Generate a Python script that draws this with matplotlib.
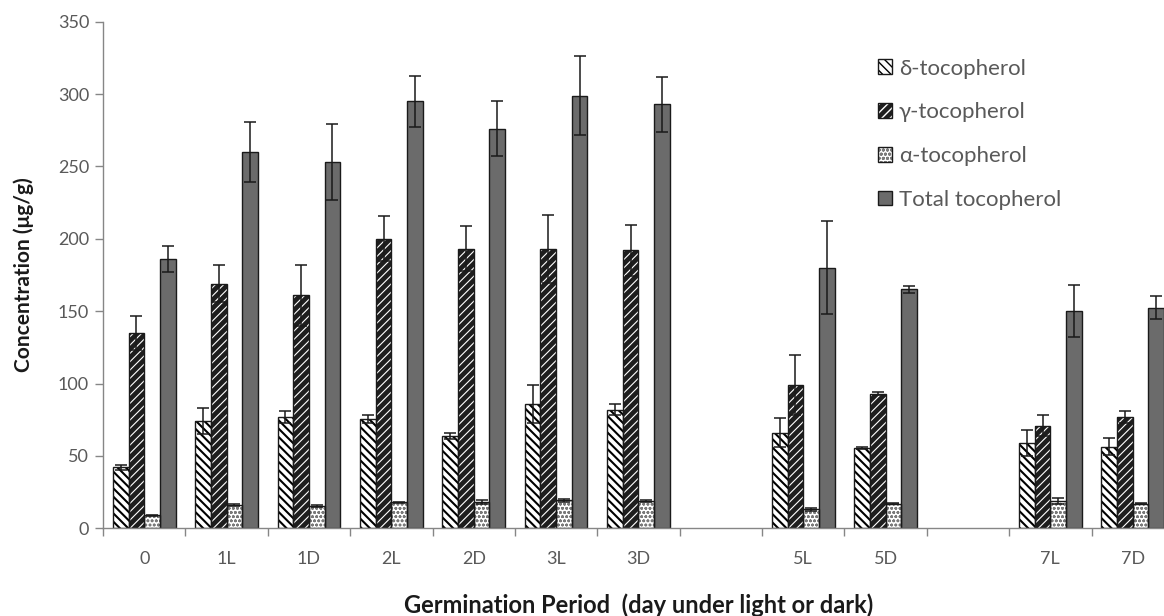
import numpy as np
from matplotlib import pyplot as plt

#-----------------------------------------------------------------------------------------
### Tocopherol content during germination (light / dark) #################################
#-----------------------------------------------------------------------------------------

categorias = ['0', '1L', '1D', '2L', '2D', '3L', '3D', '', '5L', '5D', '', '7L', '7D']

delta = [42, 74, 77, 75.5, 64, 86, 82, np.nan, 66, 55.5, np.nan, 59, 56.5]
delta_err = [2, 9, 4, 2.5, 2, 13, 4, np.nan, 10, 1, np.nan, 9, 6]

gamma = [135, 169, 161, 200, 193, 193, 192, np.nan, 99, 93, np.nan, 71, 77]
gamma_err = [11.5, 13, 21, 15.5, 15.5, 23.5, 17.5, np.nan, 21, 1, np.nan, 7.5, 4]

alfa = [9, 16, 15.5, 18, 18, 19.5, 19, np.nan, 13, 17, np.nan, 19, 17]
alfa_err = [0.5, 0.5, 0.5, 0.5, 1.2, 1, 0.5, np.nan, 1, 0.5, np.nan, 2, 0.5]

total = [186, 260, 253, 295, 276, 299, 293, np.nan, 180, 165, np.nan, 150, 152.5]
total_err = [9, 21, 26, 17.5, 19, 27, 19, np.nan, 32, 2.5, np.nan, 18, 8]

etiquetas = ['δ-tocopherol', 'γ-tocopherol', 'α-tocopherol', 'Total tocopherol']

#Estilo------------
plt.rcParams['font.family'] = ['Lato', 'DejaVu Sans']
gris = '#595959'
borde = '#1a1a1a'

fig = plt.figure(figsize=(11.64, 6.16), dpi=100)
ax = fig.add_axes([0.0885, 0.1424, 0.920, 0.8224])

x = np.arange(len(categorias)) + 0.5
w = 0.19

series = [
    # valores, errores, relleno, trama, color trama, grosor trama
    (delta, delta_err, 'white', '\\\\\\\\', 'black', 1.5),
    (gamma, gamma_err, '#1e1e1e', '////', 'white', 0.8),
    (alfa, alfa_err, 'white', 'oooo', '#7a7a7a', 0.8),
    (total, total_err, '#6b6b6b', None, '#6b6b6b', 1.0),
]

handles = []
for k, (vals, errs, fc, ht, hc, hlw) in enumerate(series):
    vals = np.array(vals, dtype=float)
    errs = np.array(errs, dtype=float)
    ok = ~np.isnan(vals)
    xs = x[ok] + (k - 1.5) * w
    with plt.rc_context({'hatch.linewidth': hlw}):
        b1 = ax.bar(xs, vals[ok], w, color=fc, hatch=ht, edgecolor=hc,
                    linewidth=0, zorder=2)
    b2 = ax.bar(xs, vals[ok], w, fill=False, edgecolor=borde, linewidth=1.0, zorder=2.5)
    ax.errorbar(xs, vals[ok], yerr=errs[ok], fmt='none', ecolor=borde,
                elinewidth=1.1, capsize=4.5, capthick=1.1, zorder=3)
    handles.append((b1.patches[0], b2.patches[0]))

#Ejes------------
ax.set_xlim(0, len(categorias))
ax.set_ylim(0, 350)
ax.set_yticks(range(0, 351, 50))
ax.set_xticks(x)
ax.set_xticklabels(categorias)
ax.set_xticks(np.arange(len(categorias) + 1), minor=True)
ax.tick_params(axis='x', which='major', length=0, pad=16, labelsize=13, labelcolor=gris)
ax.tick_params(axis='x', which='minor', length=6, width=1, color='#868686', direction='out')
ax.tick_params(axis='y', length=6, width=1, color='#868686', pad=4, labelsize=13, labelcolor=gris)

for s in ['top', 'right']:
    ax.spines[s].set_visible(False)
for s in ['left', 'bottom']:
    ax.spines[s].set_color('#868686')
    ax.spines[s].set_linewidth(1)

ax.set_ylabel('Concentration (μg/g)', fontsize=15, fontweight='bold', color='#1a1a1a')
ax.set_xlabel('Germination Period  (day under light or dark)', fontsize=17,
              fontweight='bold', color='#1a1a1a')
ax.yaxis.set_label_coords(-0.064, 0.5)
ax.xaxis.set_label_coords(0.5, -0.128)

fig.legend(handles, etiquetas, loc='upper left', bbox_to_anchor=(0.754, 0.905),
           frameon=False, fontsize=16, labelcolor=gris, handlelength=0.65,
           handleheight=0.65, handletextpad=0.3, labelspacing=1.07,
           borderpad=0, borderaxespad=0)

plt.savefig('out.png', dpi=100)
